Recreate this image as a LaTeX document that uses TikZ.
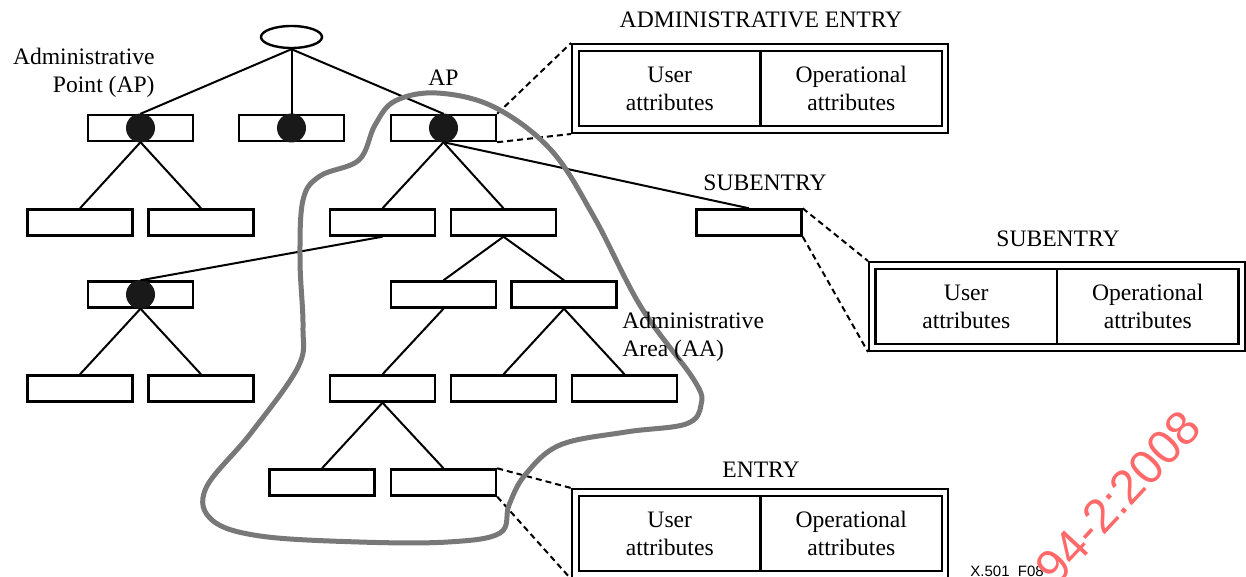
\documentclass[tikz,border=0pt]{standalone}
\usepackage{fontspec}
\setmainfont{Liberation Serif}
\newfontfamily\helv{Liberation Sans}
\usepackage{xcolor}
\usepackage{tikz}
\usetikzlibrary{shapes.geometric}
\definecolor{aagray}{RGB}{120,120,120}
\definecolor{wmred}{RGB}{255,105,105}

\begin{document}
\begin{tikzpicture}[x=0.5pt,y=-0.5pt,
  ent/.style={draw,line width=1.2pt,fill=white,minimum width=52.5pt,minimum height=13pt,inner sep=0pt},
  dot/.style={circle,fill=black!90,minimum size=14.5pt,inner sep=0pt},
  big/.style={draw,line width=1pt,minimum width=188pt,minimum height=44.5pt,inner sep=0pt},
  cell/.style={draw,line width=1.2pt,minimum width=90.75pt,minimum height=37.5pt,inner sep=0pt,align=center,font=\fontsize{11.8}{14}\selectfont},
  lbl/.style={font=\fontsize{11.8}{14}\selectfont,inner sep=0pt},
  tree/.style={line width=1pt},
  zoomline/.style={line width=1pt,dash pattern=on 3pt off 2pt}]
\useasboundingbox (0,0) rectangle (1246,577);

\node at (291.5,37) (R) [ellipse,draw,line width=1.2pt,minimum width=30.5pt,minimum height=11pt,inner sep=0pt] {};
\node at (140.5,128) (P1) [ent] {};
\node at (291.5,128) (P2) [ent] {};
\node at (443.5,128) (P3) [ent] {};
\node at (80,222.5) (B1) [ent] {};
\node at (201,222.5) (B2) [ent] {};
\node at (382.5,222.5) (B3) [ent] {};
\node at (503.5,222.5) (B4) [ent] {};
\node at (749,222.5) (S) [ent] {};
\node at (140.5,294.5) (C1) [ent] {};
\node at (443.5,294.5) (C2) [ent] {};
\node at (564,294.5) (C3) [ent] {};
\node at (80,388.5) (D1) [ent] {};
\node at (201,388.5) (D2) [ent] {};
\node at (382.5,388.5) (D3) [ent] {};
\node at (503.5,388.5) (D4) [ent] {};
\node at (624.5,388.5) (D5) [ent] {};
\node at (322,482.5) (E1) [ent] {};
\node at (443.5,482.5) (E2) [ent] {};
\node at (140.5,128) (P1d) [dot] {};
\node at (291.5,128) (P2d) [dot] {};
\node at (443.5,128) (P3d) [dot] {};
\node at (140.5,294.5) (C1d) [dot] {};

\draw[tree] (R.south) -- (P1.north);
\draw[tree] (R.south) -- (P2.north);
\draw[tree] (R.south) -- (P3.north);
\draw[tree] (P1.south) -- (B1.north);
\draw[tree] (P1.south) -- (B2.north);
\draw[tree] (P3.south) -- (B3.north);
\draw[tree] (P3.south) -- (B4.north);
\draw[tree] (P3.south) -- (S.north);
\draw[tree] (B3.south) -- (C1.north);
\draw[tree] (B4.south) -- (C2.north);
\draw[tree] (B4.south) -- (C3.north);
\draw[tree] (C1.south) -- (D1.north);
\draw[tree] (C1.south) -- (D2.north);
\draw[tree] (C2.south) -- (D3.north);
\draw[tree] (C3.south) -- (D4.north);
\draw[tree] (C3.south) -- (D5.north);
\draw[tree] (D3.south) -- (E1.north);
\draw[tree] (D3.south) -- (E2.north);

\node at (760,88.5) (AE) [big] {};
\node at (669.75,88.5) (AEu) [cell] {User\\attributes};
\node at (851.25,88.5) (AEo) [cell] {Operational\\attributes};
\node at (1057,306.5) (SE) [big] {};
\node at (966.25,306.5) (SEu) [cell] {User\\attributes};
\node at (1147.75,306.5) (SEo) [cell] {Operational\\attributes};
\node at (760,533.5) (EN) [big] {};
\node at (669.75,533.5) (ENu) [cell] {User\\attributes};
\node at (851.25,533.5) (ENo) [cell] {Operational\\attributes};

\draw[zoomline] (P3.north east) -- (AE.north west);
\draw[zoomline] (P3.south east) -- (AE.south west);
\draw[zoomline] (S.north east) -- (SE.north west);
\draw[zoomline] (S.south east) -- (SE.south west);
\draw[zoomline] (E2.north east) -- (EN.north west);
\draw[zoomline] (E2.south east) -- (EN.south west);

\draw[aagray,line width=2.5pt] plot[smooth cycle,tension=0.6] coordinates {(437,93) (494,107) (551,150) (594,217) (641,307) (694,380) (701,405) (686,424) (626,432) (560,445) (525,475) (509,505) (500,533) (448,542) (359,542) (260,536) (212,520) (206,488) (251,433) (298,367) (303,327) (300,260) (303,200) (320,176) (359,160) (375,125) (395,101)};

\node at (155,72.5) (LP) [lbl,anchor=east,align=right] {Administrative\\Point (AP)};
\node at (443.5,78) (LA) [lbl] {AP};
\node at (622,337) (LAA) [lbl,anchor=west,align=left] {Administrative\\Area (AA)};
\node at (761,20) (LAE) [lbl] {ADMINISTRATIVE ENTRY};
\node at (765,183) (LS) [lbl] {SUBENTRY};
\node at (1058,239) (LSE) [lbl] {SUBENTRY};
\node at (761,470) (LEN) [lbl] {ENTRY};
\node at (970,576) (LF) [anchor=base west,inner sep=0pt,font=\helv\fontsize{7.5}{9}\selectfont] {X.501\_F08};
\node at (1056,588) (W) [anchor=base west,inner sep=0pt,rotate=47,text=wmred,font=\helv\fontsize{24}{24}\selectfont] {94-2:2008};
\end{tikzpicture}
\end{document}
